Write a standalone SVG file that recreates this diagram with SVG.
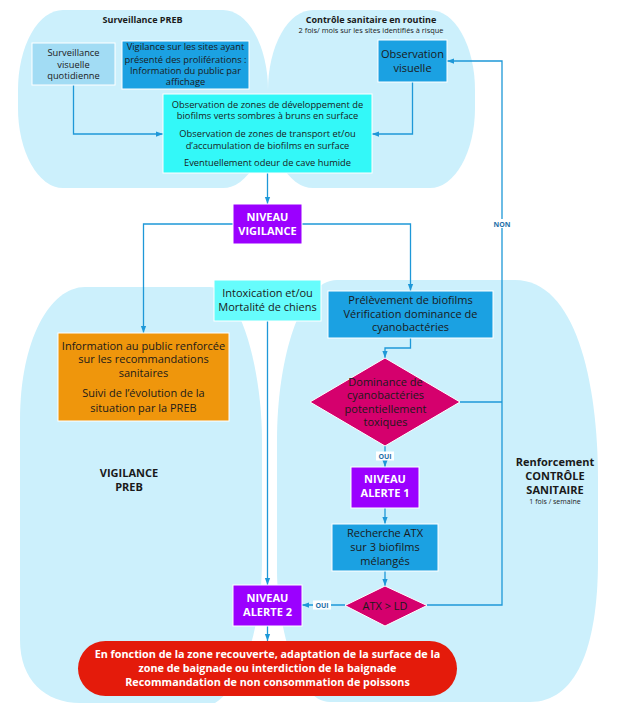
<svg xmlns="http://www.w3.org/2000/svg" width="618" height="713" viewBox="0 0 618 713">
<style>
text{font-family:"Open Sans","Noto Sans","DejaVu Sans",sans-serif;fill:#1a1a1a;text-anchor:middle}
.blob{fill:#ccf0fc}
.s{font-size:9.3px}
.m{font-size:11px}
.b{font-weight:bold}
.w{fill:#ffffff}
.lbl{font-size:7px;font-weight:bold;fill:#1e6fa8}
.conn{fill:none;stroke:#1e98d8;stroke-width:1.3}
.nb{stroke:#ffffff;stroke-width:1}
</style>
<defs>
<marker id="ah" viewBox="0 0 8 8" refX="8" refY="4" markerWidth="7" markerHeight="7" markerUnits="userSpaceOnUse" orient="auto">
<path d="M0,1 L8,4 L0,7 z" fill="#1e98d8"/>
</marker>
</defs>

<g id="zones">
<rect class="blob" x="18" y="10" width="250" height="178" rx="45" ry="80"/>
<rect class="blob" x="268" y="10" width="207" height="178" rx="45" ry="80"/>
<path class="blob" d="M85,287 H210 C240,287 262,370 262,440 V560 C262,610 250,680 215,703 H80 C45,703 20,680 20,640 V420 C20,340 50,287 85,287 Z"/>
<path class="blob" d="M337,280 H515 C575,280 598,380 598,480 V560 C598,650 575,702 530,702 H330 C295,702 277,620 277,570 V440 C277,360 300,280 337,280 Z"/>
</g>

<g id="zone-labels">
<text class="b" x="142.5" y="23" style="font-size:9px">Surveillance PREB</text>
<text class="b" x="371" y="23" style="font-size:9px">Contrôle sanitaire en routine</text>
<text x="371" y="32.6" style="font-size:7.4px">2 fois/ mois sur les sites identifiés à risque</text>
<text class="m b" x="129" y="477">VIGILANCE</text>
<text class="m b" x="129" y="491.3">PREB</text>
<text class="m b" x="555" y="466.2">Renforcement</text>
<text class="m b" x="555" y="479.9">CONTRÔLE</text>
<text class="m b" x="555" y="493.9">SANITAIRE</text>
<text x="555" y="503.5" style="font-size:7px">1 fois / semaine</text>
</g>

<g id="connectors">
<path class="conn" d="M73.5,85 V134 H163" marker-end="url(#ah)"/>
<path class="conn" d="M412.5,82 V134 H372" marker-end="url(#ah)"/>
<path class="conn" d="M267.5,173 V204" marker-end="url(#ah)"/>
<path class="conn" d="M233,224 H143.5 V333" marker-end="url(#ah)"/>
<path class="conn" d="M302,224 H410.5 V291" marker-end="url(#ah)"/>
<path class="conn" d="M410.5,338 V348 H385 V358" marker-end="url(#ah)"/>
<path class="conn" d="M267.5,321 V585" marker-end="url(#ah)"/>
<path class="conn" d="M460,402 H502"/>
<path class="conn" d="M427,605 H502 V61 H447" marker-end="url(#ah)"/>
<path class="conn" d="M385,446 V467" marker-end="url(#ah)"/>
<path class="conn" d="M385,508 V524" marker-end="url(#ah)"/>
<path class="conn" d="M385,571 V586" marker-end="url(#ah)"/>
<path class="conn" d="M345,605 H302" marker-end="url(#ah)"/>
<path class="conn" d="M267.5,626 V641" marker-end="url(#ah)"/>
<rect x="492" y="219" width="20" height="9" fill="#ffffff"/>
<text class="lbl" x="502" y="226.5">NON</text>
<rect x="376" y="451.5" width="18" height="9" fill="#ffffff"/>
<text class="lbl" x="385" y="458.5">OUI</text>
<rect x="313" y="600.5" width="18" height="9" fill="#ffffff"/>
<text class="lbl" x="322" y="607.5">OUI</text>
</g>

<g id="surveillance-visuelle">
<rect class="nb" x="32" y="43" width="83" height="42" fill="#a2dcf4"/>
<text class="s" x="73.5" y="56">Surveillance</text>
<text class="s" x="73.5" y="67.6">visuelle</text>
<text class="s" x="73.5" y="79">quotidienne</text>
</g>

<g id="vigilance-sites">
<rect class="nb" x="122" y="41" width="127" height="48" fill="#1ba1e2"/>
<text class="s" x="185.5" y="50.3">Vigilance sur les sites ayant</text>
<text class="s" x="185.5" y="62.6">présenté des proliférations :</text>
<text class="s" x="185.5" y="74.3">Information du public par</text>
<text class="s" x="185.5" y="85">affichage</text>
</g>

<g id="observations">
<rect class="nb" x="163" y="94" width="209" height="79" fill="#33f8f8"/>
<text class="s" x="267.5" y="108.3">Observation de zones de développement de</text>
<text class="s" x="267.5" y="119.3">biofilms verts sombres à bruns en surface</text>
<text class="s" x="267.5" y="137.3">Observation de zones de transport et/ou</text>
<text class="s" x="267.5" y="149">d’accumulation de biofilms en surface</text>
<text class="s" x="267.5" y="166">Eventuellement odeur de cave humide</text>
</g>

<g id="observation-visuelle">
<rect class="nb" x="378" y="40" width="69" height="42" fill="#1ba1e2"/>
<text class="m" x="412.5" y="58.2">Observation</text>
<text class="m" x="412.5" y="72.2">visuelle</text>
</g>

<g id="niveau-vigilance">
<rect class="nb" x="233" y="204" width="69" height="40" fill="#9b00ff"/>
<text class="m b w" x="267.5" y="220.5">NIVEAU</text>
<text class="m b w" x="267.5" y="234.5">VIGILANCE</text>
</g>

<g id="information-public">
<rect class="nb" x="58" y="333" width="171" height="88" fill="#ef960c"/>
<text class="m" x="143.5" y="349.6">Information au public renforcée</text>
<text class="m" x="143.5" y="362.9">sur les recommandations</text>
<text class="m" x="143.5" y="377.2">sanitaires</text>
<text class="m" x="143.5" y="396.6">Suivi de l’évolution de la</text>
<text class="m" x="143.5" y="412.2">situation par la PREB</text>
</g>

<g id="intoxication">
<rect class="nb" x="214" y="280" width="107" height="41" fill="#66fcfc"/>
<text class="m" x="267.5" y="297.2">Intoxication et/ou</text>
<text class="m" x="267.5" y="310.6">Mortalité de chiens</text>
</g>

<g id="prelevement">
<rect class="nb" x="328" y="291" width="165" height="47" fill="#1ba1e2"/>
<text class="m" x="410.5" y="303.9">Prélèvement de biofilms</text>
<text class="m" x="410.5" y="317.9">Vérification dominance de</text>
<text class="m" x="410.5" y="331.2">cyanobactéries</text>
</g>

<g id="dominance">
<path class="nb" d="M385,358 L460,402 L385,446 L310,402 Z" fill="#d5006d"/>
<text class="m" x="385.5" y="385.6">Dominance de</text>
<text class="m" x="385.5" y="398.9">cyanobactéries</text>
<text class="m" x="385.5" y="412.9">potentiellement</text>
<text class="m" x="385.5" y="426.2">toxiques</text>
</g>

<g id="niveau-alerte-1">
<rect class="nb" x="351" y="467" width="68" height="41" fill="#9b00ff"/>
<text class="m b w" x="385" y="483.2">NIVEAU</text>
<text class="m b w" x="385" y="497.2">ALERTE 1</text>
</g>

<g id="recherche-atx">
<rect class="nb" x="332" y="524" width="106" height="47" fill="#1ba1e2"/>
<text class="m" x="385" y="536.6">Recherche ATX</text>
<text class="m" x="385" y="550.6">sur 3 biofilms</text>
<text class="m" x="385" y="564.6">mélangés</text>
</g>

<g id="atx-ld">
<path class="nb" d="M385,586 L427,605.5 L385,626 L345,605.5 Z" fill="#d5006d"/>
<text class="m" x="385" y="609.5">ATX &gt; LD</text>
</g>

<g id="niveau-alerte-2">
<rect class="nb" x="233" y="585" width="69" height="41" fill="#9b00ff"/>
<text class="m b w" x="267.5" y="601.5">NIVEAU</text>
<text class="m b w" x="267.5" y="615.5">ALERTE 2</text>
</g>

<g id="mesures">
<rect x="78" y="641" width="379" height="55" rx="27.5" ry="27.5" fill="#e41b0b"/>
<text class="b w" x="267.5" y="657.9" style="font-size:10.8px">En fonction de la zone recouverte, adaptation de la surface de la</text>
<text class="b w" x="267.5" y="672.2" style="font-size:10.8px">zone de baignade ou interdiction de la baignade</text>
<text class="b w" x="267.5" y="685.6" style="font-size:10.8px">Recommandation de non consommation de poissons</text>
</g>
</svg>
